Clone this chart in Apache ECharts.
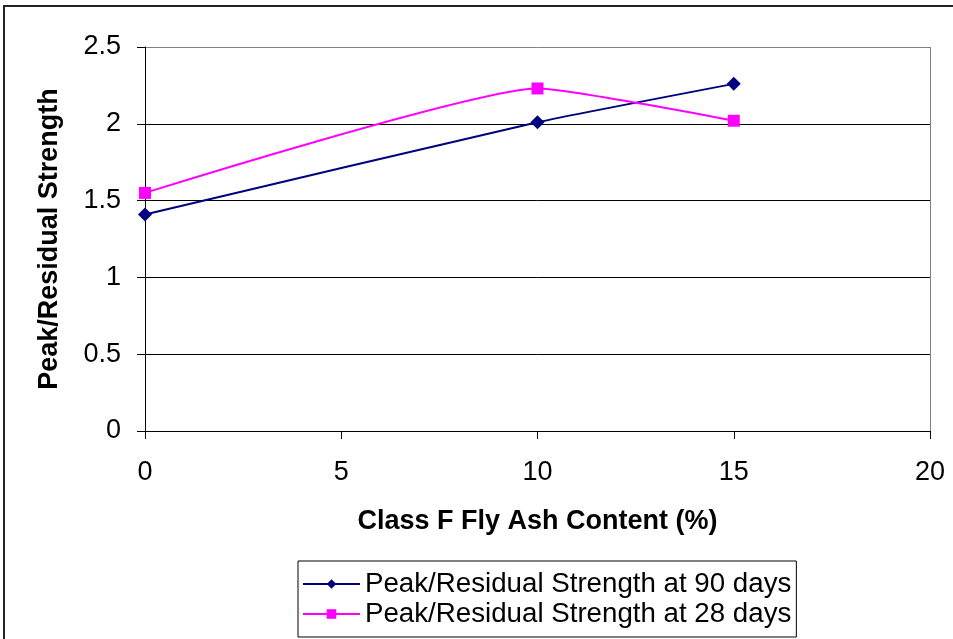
<!DOCTYPE html>
<html><head><meta charset="utf-8">
<script src="https://cdn.jsdelivr.net/npm/echarts@6/dist/echarts.min.js"></script>
<style>html,body{margin:0;padding:0;background:#fff}#c{width:953px;height:639px}</style>
</head><body><div id="c"></div>
<script>
var xValues = [0, 10, 15];
var days90 = [1.41, 2.01, 2.26];
var days28 = [1.55, 2.23, 2.02];
var seriesNames = ['Peak/Residual Strength at 90 days', 'Peak/Residual Strength at 28 days'];
var xTitle = 'Class F Fly Ash Content (%)';
var yTitle = 'Peak/Residual Strength';

function pairs(xs, ys){ return xs.map(function(x,i){ return [x, ys[i]]; }); }

var chart = echarts.init(document.getElementById('c'), null, {renderer:'canvas'});
var font = 'Liberation Sans, Arial, sans-serif';
chart.setOption({
  animation:false,
  backgroundColor:'#fff',
  textStyle:{fontFamily:font},
  graphic:[{type:'rect', shape:{x:4,y:6,width:1000,height:1000}, style:{fill:'none', stroke:'#222', lineWidth:2}, silent:true}],
  grid:{left:145, right:23, top:47, bottom:208},
  xAxis:{type:'value', min:0, max:20, interval:5,
    name:xTitle, nameLocation:'middle', nameGap:77,
    nameTextStyle:{fontSize:27, fontWeight:'bold', color:'#000', fontFamily:font},
    axisLine:{show:true, onZero:false, lineStyle:{color:'#000', width:1}},
    axisTick:{show:true, inside:false, length:8, lineStyle:{color:'#000'}},
    axisLabel:{fontSize:27, color:'#000', margin:28, fontFamily:font},
    splitLine:{show:true, lineStyle:{color:['transparent','transparent','transparent','transparent','#808080'], width:1}}
  },
  yAxis:{type:'value', min:0, max:2.5, interval:0.5,
    name:yTitle, nameLocation:'middle', nameGap:82, nameRotate:90,
    nameTextStyle:{fontSize:27, fontWeight:'bold', color:'#000', fontFamily:font},
    axisLine:{show:true, lineStyle:{color:'#000', width:1}},
    axisTick:{show:true, inside:false, length:8, lineStyle:{color:'#000'}},
    axisLabel:{fontSize:27, color:'#000', margin:24, fontFamily:font},
    splitLine:{show:true, lineStyle:{color:['#000','#000','#000','#000','#000','#808080'], width:1}}
  },
  legend:{show:true, orient:'vertical', left:298, top:561, width:499,
    backgroundColor:'#fff', borderColor:'#000', borderWidth:1, borderRadius:0,
    padding:[9,5,9,4], itemGap:2, itemWidth:57, itemHeight:12,
    textStyle:{fontSize:27.7, color:'#000', fontFamily:font},
    data:seriesNames},
  series:[
    {name:seriesNames[0], type:'line', data:pairs(xValues, days90), smooth:0.15,
     symbol:'diamond', symbolSize:14, color:'#000080',
     lineStyle:{color:'#000080', width:2}, itemStyle:{color:'#000080'}},
    {name:seriesNames[1], type:'line', data:pairs(xValues, days28), smooth:0.15,
     symbol:'rect', symbolSize:12, color:'#ff00ff',
     lineStyle:{color:'#ff00ff', width:2}, itemStyle:{color:'#ff00ff'}}
  ]
});
</script></body></html>
